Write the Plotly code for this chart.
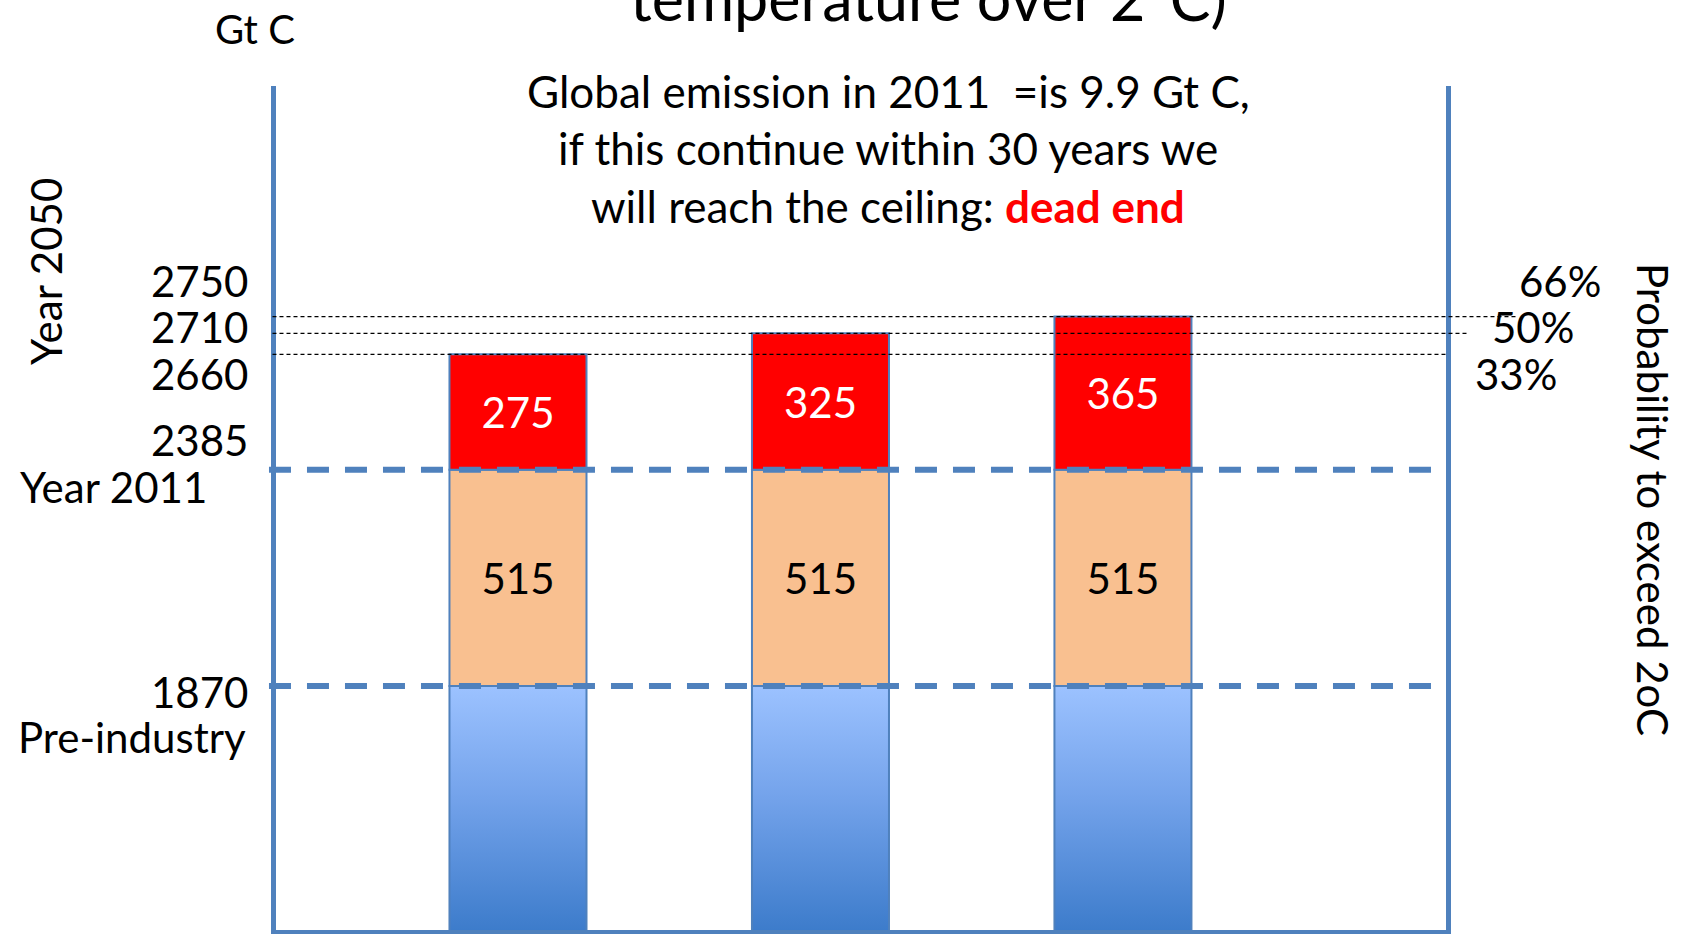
import plotly.graph_objects as go

# ---------------- data ----------------
SCENARIOS = ["33% probability", "50% probability", "66% probability"]
PREINDUSTRY_GTC = [1870, 1870, 1870]        # level at pre-industry
EMITTED_TO_2011 = [515, 515, 515]           # emitted 1870-2011
REMAINING_TO_2050 = [275, 325, 365]         # remaining budget
PROB_LABELS = ["33%", "50%", "66%"]

LEVEL_2011 = [p + e for p, e in zip(PREINDUSTRY_GTC, EMITTED_TO_2011)]
CEILING = [l + r for l, r in zip(LEVEL_2011, REMAINING_TO_2050)]

# ---------------- style / layout constants ----------------
W, H = 1681, 934
L, R, T, B = 276, 235, 86, 4
PLOT_W = W - L - R
PLOT_H = H - T - B
XR = [-0.8, 3.068]
YR = [1289, 3299]
BAR_W = 0.453
FONT = "Lato, 'Open Sans', sans-serif"
AXIS_BLUE = "#4F81BD"
FS = 42


def pxx(p):
    return (p - L) / PLOT_W


def pxy(p):
    return (H - B - p) / PLOT_H


xs = list(range(len(SCENARIOS)))

fig = go.Figure()

# blue pre-industry bars with vertical gradient
bx, by = [], []
for i, v in zip(xs, PREINDUSTRY_GTC):
    bx += [i - BAR_W / 2, i + BAR_W / 2, i + BAR_W / 2, i - BAR_W / 2, i - BAR_W / 2, None]
    by += [0, 0, v, v, 0, None]
fig.add_trace(go.Scatter(
    x=bx, y=by, mode="lines", fill="toself",
    line=dict(color=AXIS_BLUE, width=2),
    fillgradient=dict(type="vertical",
                      colorscale=[[0, "#3D7CCB"], [0.55, "#74A3EB"], [1, "#9CC2FF"]],
                      start=YR[0], stop=max(PREINDUSTRY_GTC)),
    hoverinfo="skip", name="Pre-industry"))

# orange 1870-2011 segment
fig.add_trace(go.Bar(
    x=xs, y=EMITTED_TO_2011, base=PREINDUSTRY_GTC, width=BAR_W,
    marker=dict(color="#F9C090", line=dict(color=AXIS_BLUE, width=2)),
    text=[str(v) for v in EMITTED_TO_2011], textposition="inside",
    insidetextanchor="middle", textangle=0, constraintext="none",
    textfont=dict(color="black", size=FS, family=FONT), name="1870-2011"))

# red remaining segment
fig.add_trace(go.Bar(
    x=xs, y=REMAINING_TO_2050, base=LEVEL_2011, width=BAR_W,
    marker=dict(color="#FF0000", line=dict(color=AXIS_BLUE, width=2)),
    text=[str(v) for v in REMAINING_TO_2050], textposition="inside",
    insidetextanchor="middle", textangle=0, constraintext="none",
    textfont=dict(color="white", size=FS, family=FONT), name="2011-2050"))

shapes = []
# thin dotted ceiling lines
line_ends = [1.0, 1.02, 1.061]
for c, xe in zip(CEILING, line_ends):
    shapes.append(dict(type="line", xref="paper", yref="y", x0=-0.003, x1=xe, y0=c, y1=c,
                       line=dict(color="black", width=1.2, dash="4px,3px"), layer="above"))
# thick dashed level lines
for lvl in (LEVEL_2011[0], PREINDUSTRY_GTC[0]):
    shapes.append(dict(type="line", xref="paper", yref="y", x0=-0.006, x1=0.995, y0=lvl, y1=lvl,
                       line=dict(color=AXIS_BLUE, width=6, dash="22px,16px"), layer="above"))

ann = []


def A(text, x, y, xanchor="center", yanchor="middle", size=FS, angle=0, yref="paper", yshift=0, color="black"):
    ann.append(dict(text=text, x=x, y=y, xref="paper", yref=yref, xanchor=xanchor, yanchor=yanchor,
                    showarrow=False, textangle=angle, yshift=yshift,
                    font=dict(family=FONT, size=size, color=color)))


# title (cut off at top, as in the original slide)
A("temperature over 2˚C)", pxx(928), pxy(36), yanchor="bottom", size=61)
A("Gt C", pxx(255), pxy(29), size=40)
A("Global emission in 2011\u00a0\u00a0=is 9.9 Gt C,", pxx(888), pxy(91), size=44)
A("if this continue within 30 years we", pxx(888), pxy(148), size=44)
A("will reach the ceiling: <b><span style='color:#FF0000'>dead end</span></b>", pxx(888), pxy(206), size=44)

A("Year 2050", pxx(46), pxy(272), angle=-90)
A("Probability to exceed 2oC", pxx(1653), pxy(499), angle=90)

label_shifts = [-20, 6, 36]
pct_x = [1473, 1490, 1517]
for c, s, p, xp in zip(CEILING, label_shifts, PROB_LABELS, pct_x):
    A(str(c), pxx(250), c, xanchor="right", yref="y", yshift=s)
    A(p, pxx(xp), c, xanchor="left", yref="y", yshift=s)

A(str(LEVEL_2011[0]), pxx(250), LEVEL_2011[0], xanchor="right", yref="y", yshift=30)
A("Year 2011", pxx(113), LEVEL_2011[0], yref="y", yshift=-17)
A(str(PREINDUSTRY_GTC[0]), pxx(250), PREINDUSTRY_GTC[0], xanchor="right", yref="y", yshift=-6)
A("Pre-industry", pxx(248), PREINDUSTRY_GTC[0], xanchor="right", yref="y", yshift=-51)

fig.update_layout(
    width=W, height=H, margin=dict(l=L, r=R, t=T, b=B),
    paper_bgcolor="white", plot_bgcolor="white", showlegend=False,
    barmode="overlay", shapes=shapes, annotations=ann,
    xaxis=dict(range=XR, showgrid=False, zeroline=False, showticklabels=False, ticks="",
               showline=True, linecolor=AXIS_BLUE, linewidth=5, fixedrange=True),
    yaxis=dict(range=YR, showgrid=False, zeroline=False, showticklabels=False, ticks="",
               showline=True, mirror=True, linecolor=AXIS_BLUE, linewidth=5, fixedrange=True),
)

fig.write_html("out.html")
